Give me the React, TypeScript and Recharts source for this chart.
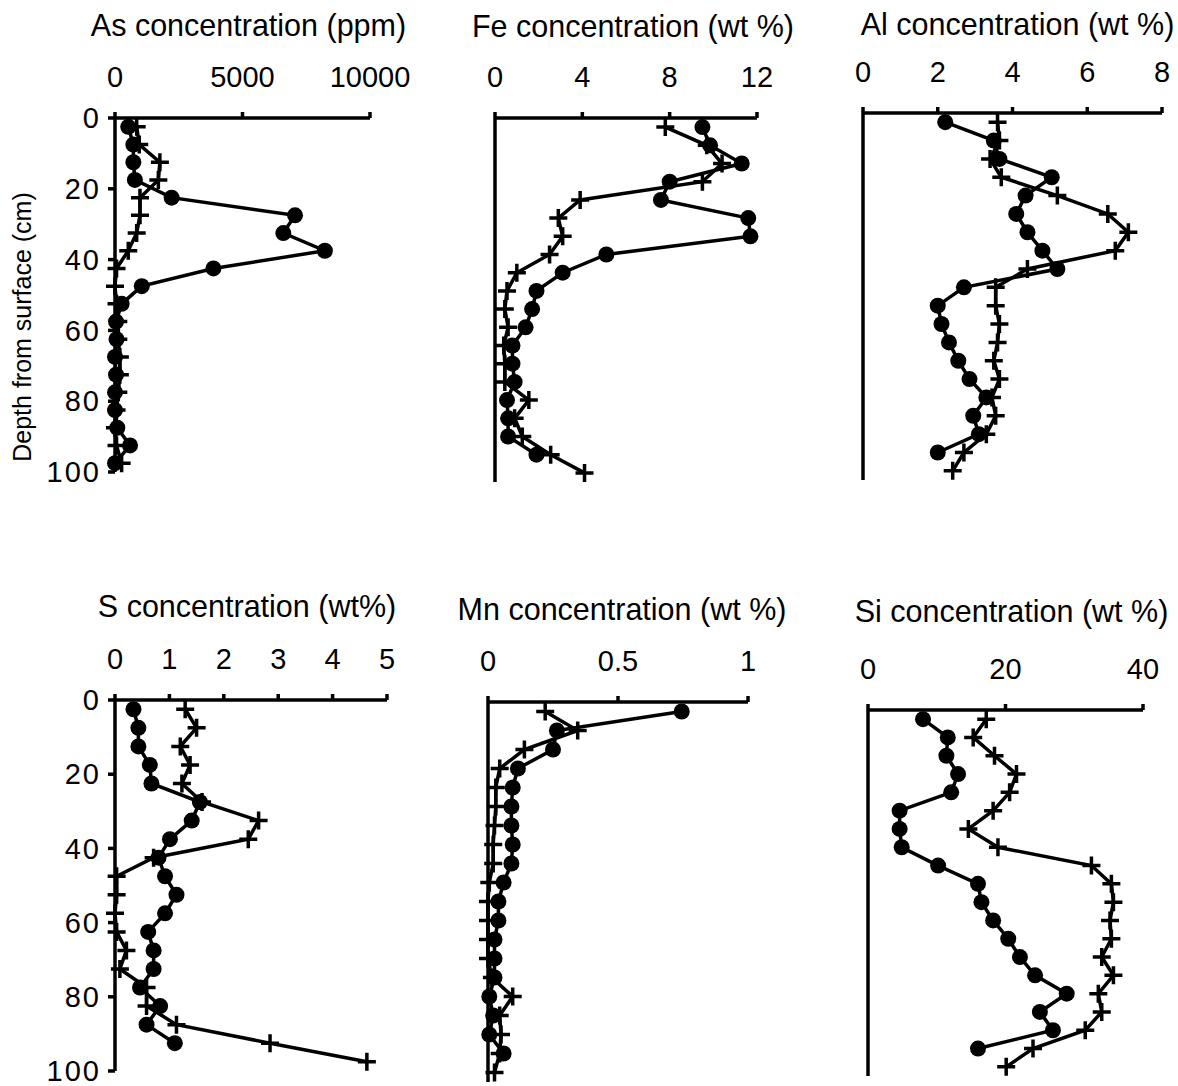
import { ScatterChart, Scatter, XAxis, YAxis } from 'recharts';

// sample depths (cm), mid-points of 5 cm slices
const depths = [2.5, 7.5, 12.5, 17.5, 22.5, 27.5, 32.5, 37.5, 42.5, 47.5, 52.5, 57.5, 62.5, 67.5, 72.5, 77.5, 82.5, 87.5, 92.5, 97.5];
const depthTicks = [0, 20, 40, 60, 80, 100];

const asCircle = [520, 720, 720, 780, 2220, 7060, 6600, 8230, 3860, 1050, 260, 40, 60, 0, 40, 0, 0, 90, 590, 0];
const asPlus = [850, 950, 1760, 1700, 980, 980, 850, 520, 60, 0, 60, 130, 130, 190, 190, 130, 60, 0, 60, 260];
const asTicks = [0, 5000, 10000];

const feCircle = [9.5, 9.85, 11.3, 8.0, 7.6, 11.6, 11.7, 5.1, 3.1, 1.9, 1.7, 1.4, 0.8, 0.8, 0.9, 0.55, 0.6, 0.6, 1.9];
const fePlus = [7.8, 9.7, 10.4, 9.5, 3.9, 2.9, 3.1, 2.5, 1.0, 0.55, 0.45, 0.6, 0.4, 0.45, 0.45, 1.55, 0.9, 1.25, 2.55, 4.1];
const feTicks = [0, 4, 8, 12];

const alCircle = [2.2, 3.5, 3.65, 5.05, 4.35, 4.1, 4.4, 4.8, 5.2, 2.7, 2.0, 2.1, 2.3, 2.55, 2.85, 3.3, 2.95, 3.1, 2.0];
const alPlus = [3.6, 3.65, 3.4, 3.7, 5.2, 6.55, 7.1, 6.75, 4.4, 3.55, 3.55, 3.65, 3.6, 3.5, 3.65, 3.45, 3.55, 3.3, 2.7, 2.4];
const alTicks = [0, 2, 4, 6, 8];

const sCircle = [0.34, 0.43, 0.43, 0.64, 0.67, 1.56, 1.41, 1.01, 0.8, 0.92, 1.13, 0.92, 0.61, 0.71, 0.71, 0.46, 0.83, 0.58, 1.1];
const sPlus = [1.29, 1.5, 1.2, 1.38, 1.23, 1.6, 2.64, 2.45, 0.71, 0.03, 0.03, 0.0, 0.03, 0.21, 0.09, 0.58, 0.58, 1.13, 2.85, 4.63];
const sTicks = [0, 1, 2, 3, 4, 5];

const mnCircle = [0.745, 0.265, 0.25, 0.115, 0.095, 0.09, 0.09, 0.095, 0.09, 0.06, 0.04, 0.04, 0.025, 0.025, 0.025, 0.005, 0.02, 0.005, 0.06];
const mnPlus = [0.22, 0.345, 0.14, 0.045, 0.03, 0.03, 0.025, 0.02, 0.02, 0.005, 0, 0, 0, 0, 0.015, 0.095, 0.045, 0.05, 0.045, 0.025];
const mnTicks = [0, 0.5, 1];

const siCircle = [8.0, 11.6, 11.4, 13.1, 12.1, 4.6, 4.6, 4.9, 10.2, 16.0, 16.5, 18.2, 20.4, 22.1, 24.3, 28.9, 25.0, 26.9, 16.0];
const siPlus = [17.2, 15.3, 18.4, 21.6, 20.6, 18.2, 14.6, 18.9, 32.5, 35.4, 35.7, 35.2, 35.4, 34.0, 35.7, 33.5, 34.0, 31.6, 24.0, 20.1];
const siTicks = [0, 20, 40];

const FONT = '"Liberation Sans", Arial, Helvetica, sans-serif';
const INK = '#000';
const LW = 3.5;

const toPoints = (vals: number[]) => vals.map((v, i) => ({ d: depths[i], v }));

function Dot(props: any) {
  const { cx, cy } = props;
  return <circle cx={cx} cy={cy} r={8} fill={INK} />;
}

function Plus(props: any) {
  const { cx, cy } = props;
  const a = 9;
  return (
    <path
      d={`M${cx - a},${cy}H${cx + a}M${cx},${cy - a}V${cy + a}`}
      stroke={INK}
      strokeWidth={LW}
      fill="none"
    />
  );
}

const ML = 115; // y-axis band
const AXH = 50; // x-axis band
const MT = 80;

function DepthLabel(props: any) {
  const vb = props.viewBox;
  const x = vb.x + ML - 84;
  const y = vb.y + vb.height / 2 + 32;
  return (
    <text
      x={x}
      y={y}
      transform={`rotate(-90 ${x} ${y})`}
      textAnchor="middle"
      fontSize={25}
      fontFamily={FONT}
      fill={INK}
    >
      Depth from surface (cm)
    </text>
  );
}

interface ProfileProps {
  title: string;
  left: number;
  top: number;
  width: number;
  height: number;
  max: number;
  ticks: number[];
  circles: number[];
  pluses: number[];
  titleGap: number;
  titleShift?: number;
  depthLabels?: boolean;
  depthTitle?: boolean;
}

function Profile({ title, left, top, width, height, max, ticks, circles, pluses, titleGap, titleShift = 5, depthLabels, depthTitle }: ProfileProps) {
  return (
    <div style={{ position: 'absolute', left: left - ML, top: top - MT - AXH }}>
      <ScatterChart
        width={width + ML + 45}
        height={height + MT + AXH + 20}
        margin={{ top: MT, right: 45, bottom: 20, left: 0 }}
      >
        <XAxis
          type="number"
          dataKey="v"
          orientation="top"
          domain={[0, max]}
          ticks={ticks}
          interval={0}
          height={AXH}
          stroke={INK}
          strokeWidth={LW}
          axisLine={{ stroke: INK, strokeWidth: LW }}
          tickLine={{ stroke: INK, strokeWidth: LW }}
          tickSize={6}
          tickMargin={25}
          tick={{ fontSize: 29, fill: INK, fontFamily: FONT, strokeWidth: 0 }}
          label={{ value: title, position: 'top', offset: titleGap - AXH, dx: titleShift, fontSize: 30.5, fill: INK, fontFamily: FONT }}
        />
        <YAxis
          type="number"
          dataKey="d"
          reversed
          domain={[0, 100]}
          ticks={depthTicks}
          interval={0}
          width={ML}
          stroke={INK}
          strokeWidth={LW}
          axisLine={{ stroke: INK, strokeWidth: LW }}
          tickLine={{ stroke: INK, strokeWidth: LW }}
          tickSize={7}
          tickMargin={7}
          tick={depthLabels ? { fontSize: 29, fill: INK, fontFamily: FONT, strokeWidth: 0, letterSpacing: 2 } : false}
          label={depthTitle ? { content: DepthLabel } : undefined}
        />
        <Scatter
          data={toPoints(pluses)}
          shape={Plus}
          stroke={INK}
          strokeWidth={LW}
          line={{ stroke: INK, strokeWidth: LW }}
          lineType="joint"
          isAnimationActive={false}
        />
        <Scatter
          data={toPoints(circles)}
          shape={Dot}
          stroke={INK}
          strokeWidth={LW}
          line={{ stroke: INK, strokeWidth: LW }}
          lineType="joint"
          isAnimationActive={false}
        />
      </ScatterChart>
    </div>
  );
}

export default function App() {
  return (
    <div style={{ position: 'absolute', left: 0, top: 0, width: 1178, height: 1086, background: '#fff', overflow: 'hidden' }}>
      <Profile title="As concentration (ppm)" left={115} top={118} width={255} height={354} max={10000} ticks={asTicks}
        circles={asCircle} pluses={asPlus} titleGap={82} titleShift={6} depthLabels depthTitle />
      <Profile title="Fe concentration (wt %)" left={495} top={118} width={262} height={364} max={12} ticks={feTicks}
        circles={feCircle} pluses={fePlus} titleGap={81} titleShift={7} />
      <Profile title="Al concentration (wt %)" left={863} top={113} width={299} height={367} max={8} ticks={alTicks}
        circles={alCircle} pluses={alPlus} titleGap={78} titleShift={5} />
      <Profile title="S concentration (wt%)" left={115} top={700} width={272} height={371} max={5} ticks={sTicks}
        circles={sCircle} pluses={sPlus} titleGap={83} titleShift={-4} depthLabels />
      <Profile title="Mn concentration (wt %)" left={488} top={702} width={260} height={380} max={1} ticks={mnTicks}
        circles={mnCircle} pluses={mnPlus} titleGap={82} titleShift={4} />
      <Profile title="Si concentration (wt %)" left={868} top={710} width={275} height={366} max={40} ticks={siTicks}
        circles={siCircle} pluses={siPlus} titleGap={88} titleShift={6} />
    </div>
  );
}
